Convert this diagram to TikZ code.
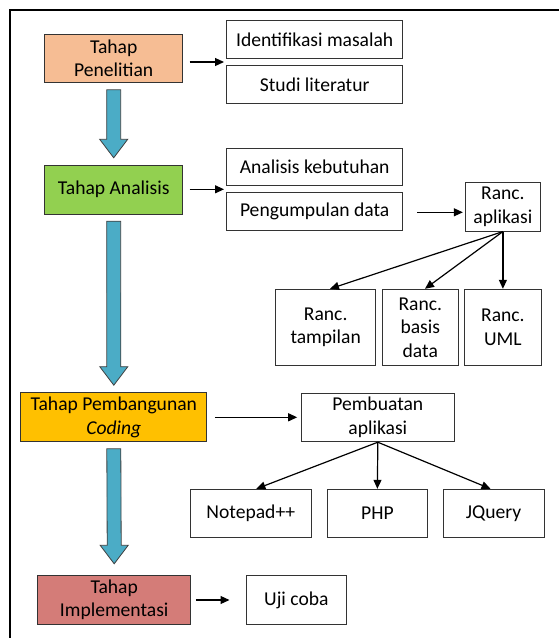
\documentclass[tikz,border=0pt]{standalone}
\usepackage{fontspec}
\setmainfont{Carlito}
\usetikzlibrary{arrows.meta,calc}
\definecolor{peach}{HTML}{F6BD94}
\definecolor{leaf}{HTML}{92D050}
\definecolor{amber}{HTML}{FFC000}
\definecolor{rose}{HTML}{D47C78}
\definecolor{teal}{HTML}{4BACC6}
\begin{document}
\begin{tikzpicture}[x=1pt,y=-1pt,
  box/.style={draw=black!80, line width=1pt, inner sep=0pt, align=center,
    font=\fontsize{19.6}{23.5}\selectfont},
  arr/.style={-{Triangle[length=9pt,width=8pt]}, line width=1.2pt},
  blk/.style={draw=black!75, fill=teal, line width=0.8pt,
    to path={($(\tikztostart)+(-7,0)$) -- ($(\tikztotarget)+(-7,-18.5)$)
      -- ($(\tikztotarget)+(-14,-18.5)$) -- (\tikztotarget)
      -- ($(\tikztotarget)+(14,-18.5)$) -- ($(\tikztotarget)+(7,-18.5)$)
      -- ($(\tikztostart)+(7,0)$) -- cycle}}]
\useasboundingbox (0,0) rectangle (559,638);

% frame
\draw[line width=1.2pt] (10,645) -- (10,10) -- (570,10);

% stages
\node[box, fill=peach, minimum width=138pt, minimum height=48pt] (pen) at (113.7,58.3) {Tahap\\Penelitian};
\node[box, fill=leaf, minimum width=138pt, minimum height=49pt] (ana) at (113.7,189.5) {Tahap Analisis};
\node[box, fill=amber, minimum width=186.3pt, minimum height=49pt] (bang) at (113.8,417.2) {Tahap Pembangunan\\\textit{Coding}};
\node[box, fill=rose, minimum width=153pt, minimum height=48.6pt] (impl) at (114.2,600) {Tahap\\Implementasi};

% activities
\node[box, minimum width=176pt, minimum height=37.6pt] (idm) at (314.7,39.5) {Identifikasi masalah};
\node[box, minimum width=176pt, minimum height=37.6pt] (stl) at (314.7,84.5) {Studi literatur};
\node[box, minimum width=176pt, minimum height=37.4pt] (akb) at (314.7,167) {Analisis kebutuhan};
\node[box, minimum width=176pt, minimum height=38pt] (pgd) at (314.7,211.7) {Pengumpulan data};
\node[box, minimum width=75.7pt, minimum height=48.7pt] (rap) at (502.9,206.7) {Ranc.\\aplikasi};
\node[box, minimum width=100pt, minimum height=76.4pt] (rtm) at (325.7,327.5) {Ranc.\\tampilan};
\node[box, minimum width=76pt, minimum height=76.4pt] (rbd) at (420.3,327.5) {Ranc.\\basis\\data};
\node[box, minimum width=76.3pt, minimum height=76.4pt] (rum) at (502.9,327.5) {Ranc.\\UML};
\node[box, minimum width=153pt, minimum height=48.4pt] (pba) at (377.8,417.5) {Pembuatan\\aplikasi};
\node[box, minimum width=121.6pt, minimum height=48pt] (npp) at (250.8,513.3) {Notepad++};
\node[box, minimum width=100.8pt, minimum height=48pt] (php) at (377.4,513.3) {PHP};
\node[box, minimum width=100.8pt, minimum height=48pt] (jq) at (493.6,513.3) {JQuery};
\node[box, minimum width=100.7pt, minimum height=48.6pt] (uji) at (296.4,600) {Uji coba};

% stage flow
\draw[blk] ($(pen.south)+(0,7)$) to ($(ana.north)+(0,-6.7)$);
\draw[blk] ($(ana.south)+(0,6.7)$) to ($(bang.north)+(0,-7)$);
\draw[blk] ($(bang.south)+(0,6.6)$) to ($(impl.north)+(0,-11.4)$);

% side arrows
\coordinate (g1) at (224,62);
\coordinate (g2) at (224,189.3);
\coordinate (g5) at (229.5,600);
\draw[arr] ($(pen.east |- g1)+(6.3,0)$) -- (g1);
\draw[arr] ($(ana.east |- g2)+(6.3,0)$) -- (g2);
\draw[arr] ($(pgd.east |- 0,212.3)+(14,0)$) -- ($(rap.west |- 0,212.3)+(-1.7,0)$);
\draw[arr] ($(bang.east |- 0,417.3)+(7.4,0)$) -- ($(pba.west |- 0,417.3)+(-3.6,0)$);
\draw[arr] ($(impl.east)+(4.7,0)$) -- (g5);

% design branches
\draw[arr] (rap.south) -- ([xshift=4.3pt]rtm.north);
\draw[arr] (rap.south) -- ([xshift=4.7pt]rbd.north);
\draw[arr] (rap.south) -- (rum.north);

% build branches
\draw[arr] (pba.south) -- ([xshift=5.6pt]npp.north);
\draw[arr] (pba.south) -- (php.north);
\draw[arr] (pba.south) -- ([xshift=-3.1pt]jq.north);
\end{tikzpicture}
\end{document}
